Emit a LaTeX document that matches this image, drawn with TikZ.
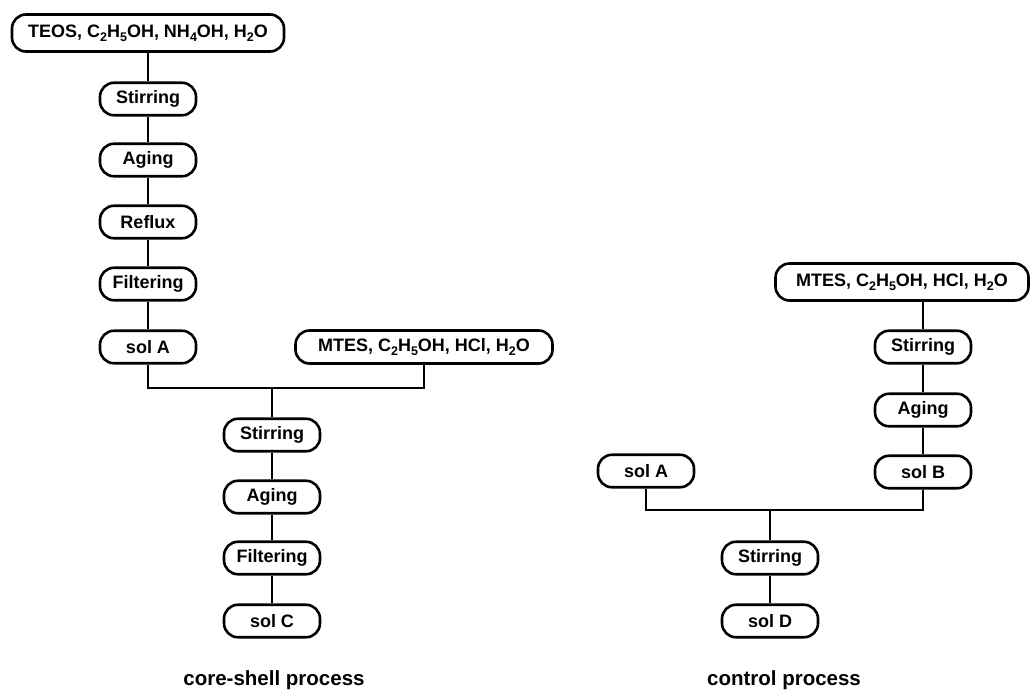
\documentclass[tikz,border=0pt]{standalone}
\usepackage{fontspec}
\setmainfont{Liberation Sans}
\newcommand{\mysb}[1]{\raisebox{-0.45ex}{\fontsize{12.5}{12.5}\selectfont #1}}
\begin{document}
\begin{tikzpicture}[x=1pt,y=-1pt,
  stepbox/.style={draw, line width=2.6pt, rounded corners=14pt, minimum width=96pt,
    minimum height=32.5pt, inner sep=2pt, font=\fontsize{18}{20}\selectfont\bfseries},
  wide/.style={minimum height=37pt, inner xsep=8pt},
  link/.style={line width=2.6pt},
  captext/.style={anchor=base, inner sep=0pt, font=\fontsize{20.5}{22}\selectfont\bfseries}]
\useasboundingbox (0,0) rectangle (1032,691);
% left: core-shell process
\node[stepbox,wide,minimum width=272pt] (teos) at (148,33) {TEOS, C\mysb{2}H\mysb{5}OH, NH\mysb{4}OH, H\mysb{2}O};
\node[stepbox] (s1) at (148,99) {Stirring};
\node[stepbox] (a1) at (148,160) {Aging};
\node[stepbox] (r1) at (148,222) {Reflux};
\node[stepbox] (f1) at (148,284) {Filtering};
\node[stepbox] (solA) at (148,347) {sol A};
\node[stepbox,wide,minimum width=257pt,minimum height=33pt] (mtes1) at (424,347) {MTES, C\mysb{2}H\mysb{5}OH, HCl, H\mysb{2}O};
\coordinate (j1) at (272,388);
\node[stepbox] (s2) at (272,435) {Stirring};
\node[stepbox] (a2) at (272,497) {Aging};
\node[stepbox] (f2) at (272,558) {Filtering};
\node[stepbox] (solC) at (272,621) {sol C};
\node[captext] (c1) at (274,685.5) {core-shell process};
\draw[link] (teos) -- (s1);
\draw[link] (s1) -- (a1);
\draw[link] (a1) -- (r1);
\draw[link] (r1) -- (f1);
\draw[link] (f1) -- (solA);
\draw[link] (solA.south) |- (j1);
\draw[link] (mtes1.south) |- (j1);
\draw[link] (j1) -- (s2.north);
\draw[link] (s2) -- (a2);
\draw[link] (a2) -- (f2);
\draw[link] (f2) -- (solC);
% right: control process
\node[stepbox,wide,minimum width=253pt] (mtes2) at (902,282) {MTES, C\mysb{2}H\mysb{5}OH, HCl, H\mysb{2}O};
\node[stepbox] (s3) at (923,347) {Stirring};
\node[stepbox] (a3) at (923,410) {Aging};
\node[stepbox] (solB) at (923,472) {sol B};
\node[stepbox] (solA2) at (646,471) {sol A};
\coordinate (j2) at (770,510);
\node[stepbox] (s4) at (770,558) {Stirring};
\node[stepbox] (solD) at (770,621) {sol D};
\node[captext] (c2) at (784,685.5) {control process};
\draw[link] (mtes2.south -| s3) -- (s3);
\draw[link] (s3) -- (a3);
\draw[link] (a3) -- (solB);
\draw[link] (solA2.south) |- (j2);
\draw[link] (solB.south) |- (j2);
\draw[link] (j2) -- (s4.north);
\draw[link] (s4) -- (solD);
\end{tikzpicture}
\end{document}
